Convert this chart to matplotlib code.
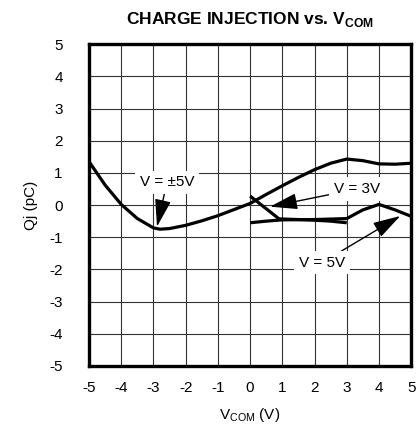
import matplotlib.pyplot as plt

plt.rcParams['font.family'] = ['Liberation Sans', 'DejaVu Sans']
plt.rcParams['axes.unicode_minus'] = False

# V = ±5V curve
x_pm5 = [-5, -4.5, -4, -3.5, -3, -2.8, -2.5, -2, -1.5, -1, -0.5, 0, 0.5, 1, 1.5, 2, 2.5, 3, 3.5, 4, 4.5, 5]
q_pm5 = [1.35, 0.62, 0.02, -0.42, -0.71, -0.75, -0.73, -0.63, -0.49, -0.33, -0.14, 0.05, 0.33, 0.6, 0.86, 1.1, 1.3, 1.43, 1.38, 1.28, 1.27, 1.3]

# V = 3V curve
x_3 = [0, 0.9, 1.5, 2, 2.5, 3]
q_3 = [0.28, -0.43, -0.45, -0.47, -0.5, -0.55]

# V = 5V curve
x_5 = [0, 0.5, 1, 2, 3, 3.5, 4, 4.5, 5]
q_5 = [-0.55, -0.5, -0.46, -0.45, -0.42, -0.15, 0.02, -0.15, -0.35]

ticks = list(range(-5, 6))

fig = plt.figure(figsize=(4.2, 4.25), dpi=100)
ax = fig.add_axes([0.212, 0.139, 0.767, 0.757])

for xs, qs in [(x_pm5, q_pm5), (x_3, q_3), (x_5, q_5)]:
    ax.plot(xs, qs, color='black', lw=2.3, solid_joinstyle='round', solid_capstyle='butt')

ax.set_xlim(-5, 5)
ax.set_ylim(-5, 5)
ax.set_xticks(ticks)
ax.set_yticks(ticks)
ax.grid(True, color='#333333', lw=0.8)
ax.set_axisbelow(True)
ax.tick_params(length=0, labelsize=11)
ax.tick_params(axis='y', pad=19)
ax.tick_params(axis='x', pad=11)
for s in ax.spines.values():
    s.set_linewidth(2.4)

arrow = dict(arrowstyle='-|>,head_length=0.85,head_width=0.25', color='black', lw=1,
             mutation_scale=20, shrinkA=0, shrinkB=0)
box = dict(boxstyle='square,pad=0.3', fc='white', ec='none')

ax.annotate('V = ±5V', xy=(-2.89, -0.67), xytext=(-2.58, 0.71),
            ha='center', va='center', fontsize=11, bbox=box, arrowprops=arrow)
ax.annotate('V = 3V', xy=(0.62, -0.05), xytext=(3.32, 0.5),
            ha='center', va='center', fontsize=11, bbox=box, arrowprops=arrow)
ax.annotate('V = 5V', xy=(4.66, -0.34), xytext=(2.23, -1.79),
            ha='center', va='center', fontsize=11, bbox=box, arrowprops=arrow)

ax.set_xlabel('V$_\\mathregular{COM}$ (V)', fontsize=11, labelpad=8)
ax.set_ylabel('Qj (pC)', fontsize=11, labelpad=8)
fig.text(0.595, 0.953, 'CHARGE INJECTION vs. V$_\\mathregular{COM}$', ha='center', va='center',
         fontsize=12.5, fontweight='bold')

fig.savefig('out.png', dpi=100)
